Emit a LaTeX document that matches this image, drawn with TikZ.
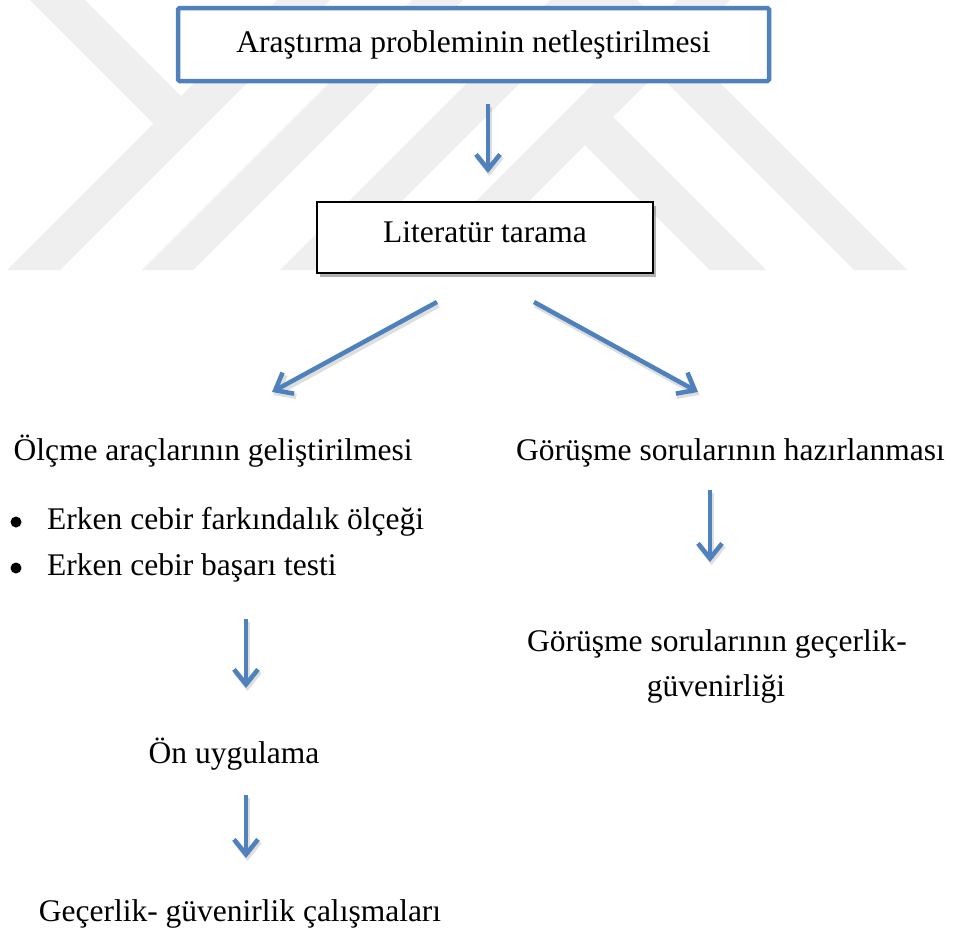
\documentclass[tikz,border=0pt]{standalone}
\usepackage{fontspec}
\setmainfont{Liberation Serif}
\usetikzlibrary{arrows.meta,shadows}
\definecolor{wmgray}{RGB}{239,239,239}
\definecolor{oblue}{RGB}{79,129,189}
\begin{document}
\begin{tikzpicture}[x=1pt,y=-1pt,
  font=\fontsize{31.5}{38}\selectfont,
  arr/.style={draw=oblue, line width=4.5pt, -{Straight Barb[length=15pt,width=24pt]},
    preaction={draw=black, opacity=0.13, line width=5.5pt, transform canvas={xshift=1.5pt,yshift=-3pt}}},
  lbl/.style={anchor=base, inner sep=0pt},
  lblw/.style={anchor=base west, inner sep=0pt},
  dot/.style={circle, fill=black, inner sep=0pt, minimum size=11pt},
  wm/.style={fill=wmgray, draw=none}]
\useasboundingbox (0,0) rectangle (954,930);
\fill[white] (0,0) rectangle (954,930);
% watermark
\fill[wm] (7,270) -- (60,270) -- (330,0) -- (277,0) -- cycle;
\fill[wm] (30,0) -- (85,0) -- (181,96) -- (153.5,123.5) -- cycle;
\fill[wm] (142,270) -- (193,270) -- (463,0) -- (412,0) -- cycle;
\fill[wm] (280,270) -- (333,270) -- (603,0) -- (550,0) -- cycle;
\fill[wm] (407,270) -- (460,270) -- (730,0) -- (677,0) -- cycle;
\fill[wm] (585,145) -- (613,117) -- (766,270) -- (710,270) -- cycle;
\fill[wm] (584,0) -- (637,0) -- (907,270) -- (854,270) -- cycle;
% boxes
\node[draw=oblue, line width=4.5pt, fill=white, minimum width=591pt, minimum height=73pt,
  inner sep=0pt, rounded corners=1.5pt] (b1) at (473.5,44.5) {};
\node[lbl] (t1) at (473.5,52) {Araştırma probleminin netleştirilmesi};
\node[draw=black, line width=1.6pt, fill=white, minimum width=336pt, minimum height=71pt,
  inner sep=0pt, drop shadow={shadow xshift=3pt, shadow yshift=-4pt, opacity=0.3, fill=black}] (b2) at (485,237.5) {};
\node[lbl] (t2) at (485,242) {Literatür tarama};
% texts
\node[lbl] (n3) at (213,460) {Ölçme araçlarının geliştirilmesi};
\node[lbl] (n4) at (730.5,460) {Görüşme sorularının hazırlanması};
\node[dot] (bu1) at (16,522) {};
\node[lblw] (i1) at (47,529) {Erken cebir farkındalık ölçeği};
\node[dot] (bu2) at (16,568) {};
\node[lblw] (i2) at (47,575) {Erken cebir başarı testi};
\node[lbl] (n5) at (234,763) {Ön uygulama};
\node[lbl] (n6) at (240,921) {Geçerlik- güvenirlik çalışmaları};
\node[lbl] (n7) at (717,651) {Görüşme sorularının geçerlik-};
\node[lbl] (n8) at (716,696) {güvenirliği};
% arrow end points
\coordinate (a1s) at (488,104); \coordinate (a1e) at (488,173);
\coordinate (a2s) at (437,302); \coordinate (a2e) at (272,392);
\coordinate (a3s) at (534,302); \coordinate (a3e) at (698,392);
\coordinate (a4s) at (246,619); \coordinate (a4e) at (246,688);
\coordinate (a5s) at (246,795); \coordinate (a5e) at (246,858);
\coordinate (a6s) at (710,490); \coordinate (a6e) at (710,562);
\draw[arr] (a1s) -- (a1e);
\draw[arr] (a2s) -- (a2e);
\draw[arr] (a3s) -- (a3e);
\draw[arr] (a4s) -- (a4e);
\draw[arr] (a5s) -- (a5e);
\draw[arr] (a6s) -- (a6e);
\end{tikzpicture}
\end{document}
